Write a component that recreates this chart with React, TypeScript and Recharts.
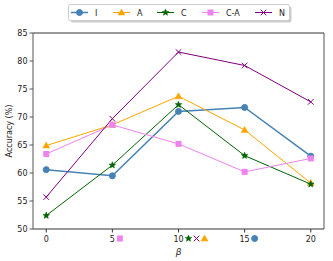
import React from 'react';
import { LineChart, Line, XAxis, YAxis, Legend, ReferenceLine } from 'recharts';

const betas = [0, 5, 10, 15, 20];
const seriesI = [60.6, 59.5, 71.0, 71.7, 63.0];
const seriesA = [64.9, 68.6, 73.7, 67.7, 58.2];
const seriesC = [52.4, 61.4, 72.2, 63.1, 58.0];
const seriesCA = [63.4, 68.6, 65.2, 60.2, 62.6];
const seriesN = [55.7, 69.7, 81.6, 79.2, 72.7];
const xTicks = [0, 5, 10, 15, 20];
const yTicks = [50, 55, 60, 65, 70, 75, 80, 85];
const bestMarks = [
  { series: 'C-A', beta: 5 },
  { series: 'C', beta: 10 },
  { series: 'N', beta: 10 },
  { series: 'A', beta: 10 },
  { series: 'I', beta: 15 },
];

const seriesDefs = [
  { key: 'I', color: '#4682b4', shape: 'circle', width: 1.5 },
  { key: 'A', color: '#ffa500', shape: 'triangle', width: 1 },
  { key: 'C', color: '#006400', shape: 'star', width: 1 },
  { key: 'C-A', color: '#ee82ee', shape: 'square', width: 1 },
  { key: 'N', color: '#800080', shape: 'x', width: 1 },
];

const data = betas.map((b, i) => ({
  beta: b,
  I: seriesI[i],
  A: seriesA[i],
  C: seriesC[i],
  'C-A': seriesCA[i],
  N: seriesN[i],
}));

function starPath(cx: number, cy: number, r: number) {
  const pts: string[] = [];
  for (let i = 0; i < 10; i++) {
    const rr = i % 2 === 0 ? r : r * 0.45;
    const a = -Math.PI / 2 + (i * Math.PI) / 5;
    pts.push(`${cx + rr * Math.cos(a)},${cy + rr * Math.sin(a)}`);
  }
  return pts.join(' ');
}

function Marker({ shape, cx, cy, color, k }: any) {
  if (cx == null || cy == null) return null;
  switch (shape) {
    case 'circle':
      return <circle key={k} cx={cx} cy={cy} r={3} fill={color} stroke={color} />;
    case 'triangle':
      return (
        <polygon
          key={k}
          points={`${cx},${cy - 3.5} ${cx - 3.5},${cy + 2.5} ${cx + 3.5},${cy + 2.5}`}
          fill={color}
          stroke={color}
          strokeWidth={0.5}
        />
      );
    case 'square':
      return <rect key={k} x={cx - 3} y={cy - 3} width={6} height={6} fill={color} />;
    case 'star':
      return <polygon key={k} points={starPath(cx, cy, 3.5)} fill={color} stroke={color} strokeWidth={0.5} />;
    case 'x':
      return (
        <g key={k} stroke={color} strokeWidth={1}>
          <line x1={cx - 2.8} y1={cy - 2.8} x2={cx + 2.8} y2={cy + 2.8} />
          <line x1={cx - 2.8} y1={cy + 2.8} x2={cx + 2.8} y2={cy - 2.8} />
        </g>
      );
    default:
      return null;
  }
}

const FONT = 'DejaVu Sans, sans-serif';

function XTick(props: any) {
  const { x, y, payload } = props;
  const v = payload.value;
  const marks = bestMarks.filter((m) => m.beta === v);
  const half = String(v).length * 2.5;
  return (
    <g>
      <text x={x} y={y + 7} textAnchor="middle" fontSize={8} fill="#222" fontFamily={FONT}>
        {v}
      </text>
      {marks.map((m, i) => {
        const def = seriesDefs.find((d) => d.key === m.series)!;
        return (
          <Marker
            key={i}
            k={i}
            shape={def.shape}
            cx={x + half + 5 + i * 8}
            cy={y + 4}
            color={def.color}
          />
        );
      })}
    </g>
  );
}

function YTick(props: any) {
  const { x, y, payload } = props;
  return (
    <text x={x} y={y + 3} textAnchor="end" fontSize={8} fill="#222" fontFamily={FONT}>
      {payload.value}
    </text>
  );
}

function LegendBox() {
  const offsets = [0, 42, 86, 131, 184];
  return (
    <svg width={226} height={20} style={{ overflow: 'visible' }}>
      <rect x={2.5} y={2.5} width={221} height={16} rx={2} fill="#999" opacity={0.5} />
      <rect x={0.5} y={0.5} width={221} height={16} rx={2} fill="#fff" stroke="#ccc" strokeWidth={1} />
      {seriesDefs.map((d, i) => {
        const x0 = 3 + offsets[i];
        return (
          <g key={d.key}>
            <line x1={x0} y1={8.5} x2={x0 + 17} y2={8.5} stroke={d.color} strokeWidth={d.width} />
            <Marker shape={d.shape} cx={x0 + 8.5} cy={8.5} color={d.color} />
            <text x={x0 + 24} y={11.5} fontSize={8} fill="#222" fontFamily={FONT}>
              {d.key}
            </text>
          </g>
        );
      })}
    </svg>
  );
}

export default function App() {
  return (
    <div style={{ position: 'absolute', left: 0, top: 0, width: 333, height: 261, background: '#fff' }}>
      <LineChart
        width={333}
        height={261}
        data={data}
        margin={{ top: 13, right: 9, left: 0, bottom: 0 }}
      >
        <XAxis
          dataKey="beta"
          type="number"
          domain={[-1, 21]}
          ticks={xTicks}
          tickSize={3.5}
          height={32}
          stroke="#333"
          tick={<XTick />}
          label={{ value: 'β', position: 'insideBottom', offset: 6, fontSize: 9, fontStyle: 'italic', fill: '#222', fontFamily: FONT }}
        />
        <YAxis
          type="number"
          domain={[50, 85]}
          ticks={yTicks}
          tickSize={3.5}
          width={33}
          stroke="#555"
          tick={<YTick />}
          label={{ value: 'Accuracy (%)', angle: -90, position: 'insideLeft', offset: 9, style: { textAnchor: 'middle' }, fontSize: 8, fill: '#222', fontFamily: FONT }}
        />
        <ReferenceLine y={85} stroke="#333" strokeWidth={1} ifOverflow="visible" />
        <ReferenceLine x={21} stroke="#555" strokeWidth={1} ifOverflow="visible" />
        {seriesDefs.map((d) => (
          <Line
            key={d.key}
            dataKey={d.key}
            stroke={d.color}
            strokeWidth={d.width}
            isAnimationActive={false}
            dot={(p: any) => <Marker key={`${d.key}-${p.index}`} k={p.index} shape={d.shape} cx={p.cx} cy={p.cy} color={d.color} />}
            activeDot={false}
          />
        ))}
        <Legend
          verticalAlign="top"
          content={() => <LegendBox />}
          wrapperStyle={{ position: 'absolute', left: 68, top: 4, width: 226, height: 20 }}
        />
      </LineChart>
    </div>
  );
}
